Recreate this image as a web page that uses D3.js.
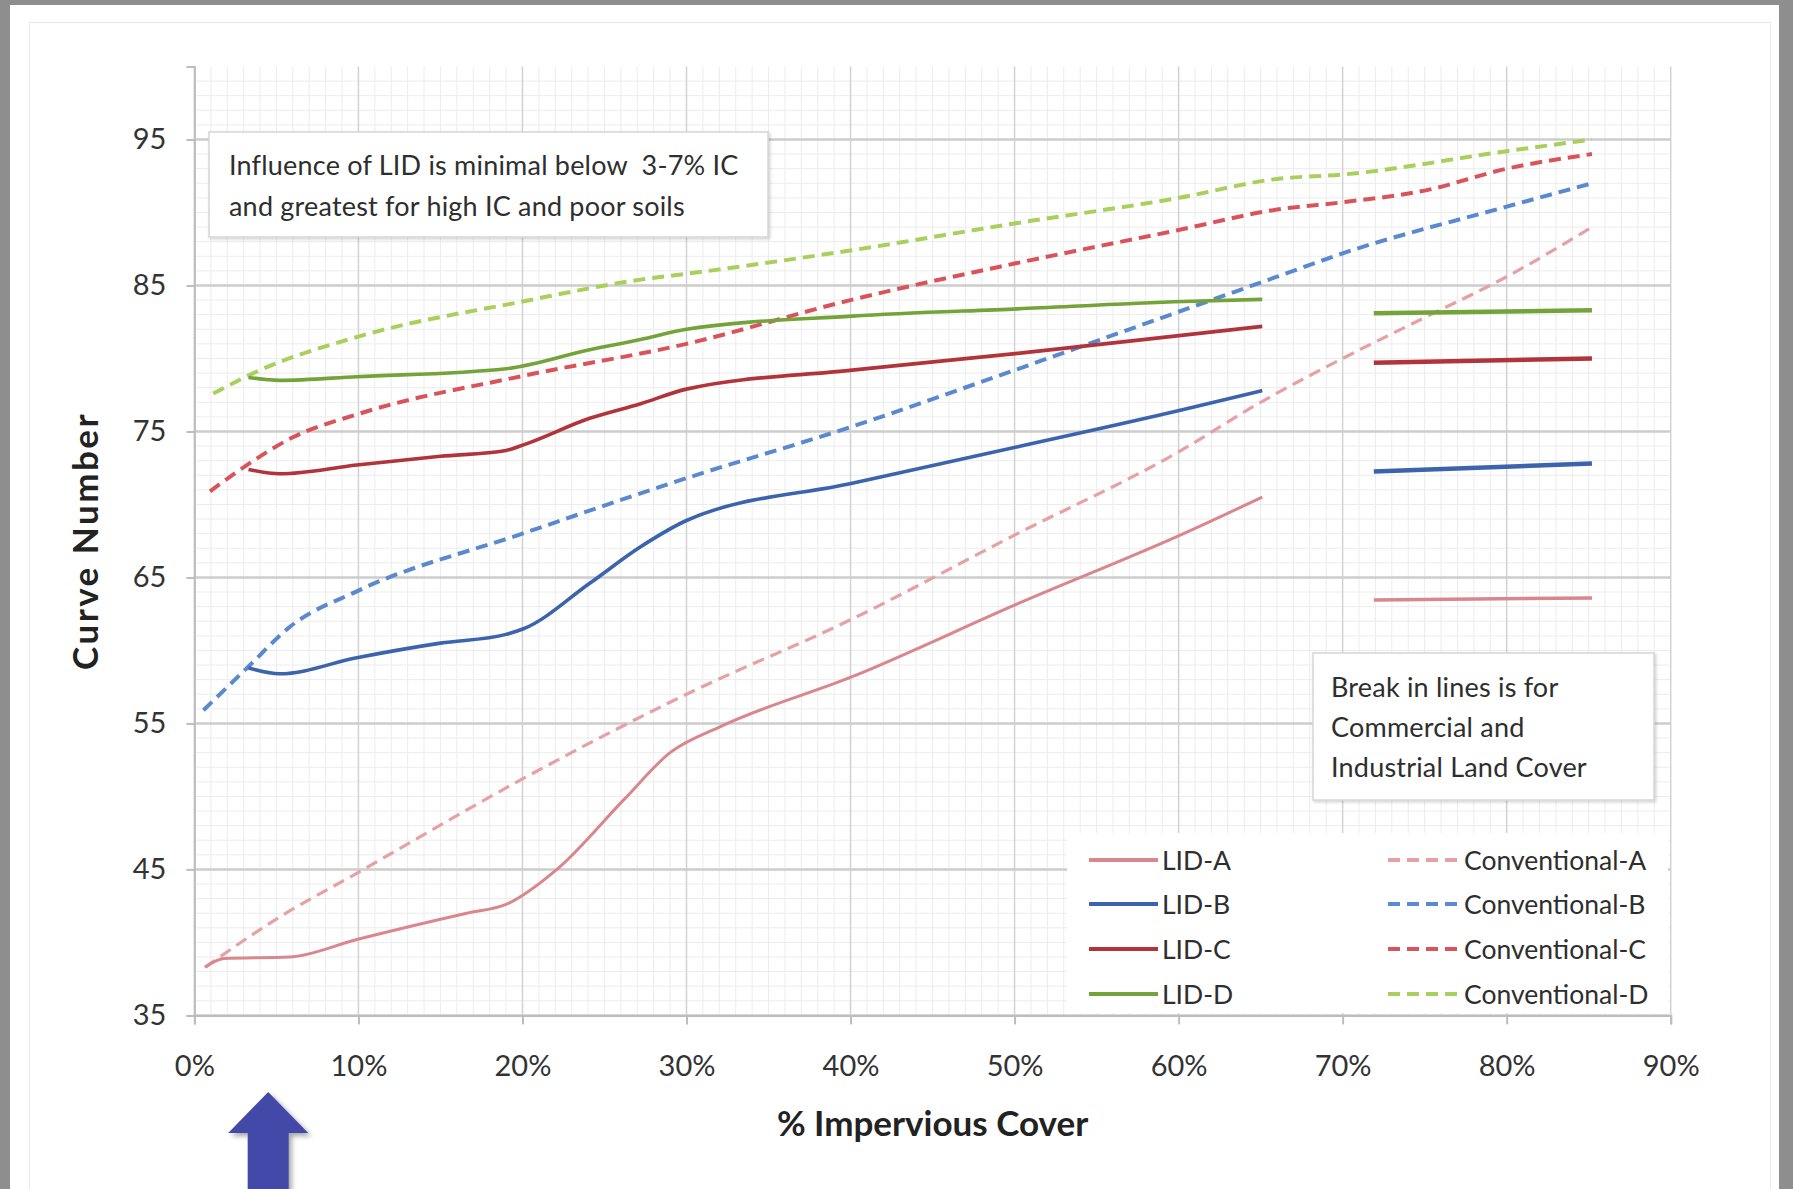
<!DOCTYPE html>
<html><head><meta charset="utf-8">
<script src="https://cdn.jsdelivr.net/npm/d3@7"></script>
<style>
html,body{margin:0;padding:0;background:#8e8e8e;overflow:hidden;}
svg{display:block;}
text{font-family:Lato,"Open Sans",sans-serif;white-space:pre;}
</style></head><body>
<svg id="c" width="1793" height="1189"></svg>
<script>
// ---------- data ----------
const xTicks = [0,10,20,30,40,50,60,70,80,90];
const yTicks = [35,45,55,65,75,85,95];

const convA = [[0.65,38.3],[5,41.6],[10,44.8],[20,51.2],[30,57.0],[40,62.1],[50,67.9],[60,73.6],[65,77.0],[70,80.0],[75,82.8],[80,85.6],[85.2,89.0]];
const convB = [[0.55,55.9],[3.3,58.9],[5.8,61.6],[10,64.1],[20,68.0],[30,71.8],[40,75.3],[50,79.2],[60,83.2],[66,85.6],[70,87.2],[80,90.4],[85.2,92.0]];
const convC = [[0.95,70.9],[3.2,72.7],[6,74.6],[10,76.2],[20,78.8],[30,81.0],[40,84.0],[50,86.5],[60,88.8],[66,90.2],[70,90.7],[75,91.5],[80,93.0],[85.2,94.0]];
const convD = [[1.15,77.6],[3.8,79.1],[10,81.5],[20,83.9],[27.2,85.4],[30,85.8],[40,87.4],[50,89.25],[60,91.0],[66,92.3],[70,92.6],[80,94.2],[85.2,95.0]];

const lidA = [[0.65,38.3],[1.8,38.9],[5.8,39.0],[9.9,40.2],[16.6,42.0],[19,42.6],[22.1,45.0],[26.2,49.8],[29,53.0],[32.1,54.8],[40.1,58.2],[50.2,63.2],[60.3,68.0],[65.1,70.5]];
const lidB = [[3.3,58.8],[5.2,58.4],[9.9,59.5],[15,60.5],[19,61.1],[20.1,61.5],[24.1,64.6],[27.2,67.1],[30,68.9],[40.1,71.45],[50.2,73.95],[60.3,76.5],[65.1,77.8]];
const lidC = [[3.3,72.4],[5.2,72.1],[9.9,72.7],[15,73.3],[19,73.7],[20.1,74.1],[24.1,75.9],[27.2,76.9],[30,77.9],[40.1,79.2],[50.2,80.35],[60.3,81.6],[65.1,82.2]];
const lidD = [[3.3,78.7],[5.2,78.5],[9.9,78.75],[19,79.3],[24.1,80.6],[27.2,81.3],[30,82.0],[40.1,82.9],[50.2,83.4],[60.3,83.9],[65.1,84.05]];

// commercial / industrial land cover segments
const lidA_ci = [[71.9,63.45],[85.2,63.6]];
const lidB_ci = [[71.9,72.25],[85.2,72.8]];
const lidC_ci = [[71.9,79.7],[85.2,80.0]];
const lidD_ci = [[71.9,83.1],[85.2,83.3]];

const lidLabels  = ["LID-A","LID-B","LID-C","LID-D"];
const convLabels = ["Conventional-A","Conventional-B","Conventional-C","Conventional-D"];
const lidColors  = ["#d9868c","#3b64ad","#b2343b","#74a33a"];
const convColors = ["#e6a1a4","#5b89cf","#d9545a","#a9cf5c"];

const note1 = ["Influence of LID is minimal below  3-7% IC","and greatest for high IC and poor soils"];
const note2 = ["Break in lines is for","Commercial and","Industrial Land Cover"];
const xTitle = "% Impervious Cover";
const yTitle = "Curve Number";
const arrowAt = 4.5;

// ---------- drawing ----------
const svg = d3.select("#c");
const L = 194.4, R = 1670.7, T = 66.5, B = 1015.4;
const x = d3.scaleLinear().domain([0,90]).range([L,R]);
const y = d3.scaleLinear().domain([35,100]).range([B,T]);

const defs = svg.append("defs");
const f = defs.append("filter").attr("id","sh").attr("x","-20%").attr("y","-20%").attr("width","150%").attr("height","150%");
f.append("feDropShadow").attr("dx",3).attr("dy",3).attr("stdDeviation",2.5).attr("flood-color","#000").attr("flood-opacity",0.35);
const f2 = defs.append("filter").attr("id","bs").attr("x","-5%").attr("y","-5%").attr("width","110%").attr("height","115%");
f2.append("feDropShadow").attr("dx",1.5).attr("dy",1.5).attr("stdDeviation",1.5).attr("flood-color","#000").attr("flood-opacity",0.18);

svg.append("rect").attr("width",1793).attr("height",1189).attr("fill","#8e8e8e");
svg.append("rect").attr("x",10).attr("y",5).attr("width",1769).attr("height",1184).attr("fill","#ffffff");
svg.append("rect").attr("x",29.5).attr("y",22.5).attr("width",1741).attr("height",1170).attr("fill","none").attr("stroke","#e8e8e8");

const g = svg.append("g");
// minor grid
const minorY = d3.range(36,100).filter(v => (v-35)%10 !== 0);
const minorX = d3.range(1,90).filter(v => v%10 !== 0);
g.selectAll(".my").data(minorY).join("line")
  .attr("x1",L).attr("x2",R).attr("y1",d=>y(d)).attr("y2",d=>y(d))
  .attr("stroke","#ececec").attr("stroke-width",1);
g.selectAll(".mx").data(minorX).join("line")
  .attr("y1",T).attr("y2",B).attr("x1",d=>x(d)).attr("x2",d=>x(d))
  .attr("stroke","#ececec").attr("stroke-width",1);
// major grid
g.selectAll(".vx").data(xTicks).join("line")
  .attr("y1",T).attr("y2",B).attr("x1",d=>x(d)).attr("x2",d=>x(d))
  .attr("stroke","#d2d2d2").attr("stroke-width",1.5);
g.selectAll(".hy").data(yTicks).join("line")
  .attr("x1",L).attr("x2",R).attr("y1",d=>y(d)).attr("y2",d=>y(d))
  .attr("stroke","#cdcdcd").attr("stroke-width",2.5);

// axes
const ax = svg.append("g").attr("transform",`translate(0,${B})`)
  .call(d3.axisBottom(x).tickValues(xTicks).tickSize(9).tickPadding(31).tickFormat(d=>d+"%"));
const ay = svg.append("g").attr("transform",`translate(${L},0)`)
  .call(d3.axisLeft(y).tickValues(yTicks).tickSize(8).tickPadding(20).tickFormat(d3.format("d")));
[ax,ay].forEach(a=>{
  a.select(".domain").attr("stroke","#bdbdbd").attr("stroke-width",2);
  a.selectAll(".tick line").attr("stroke","#bdbdbd").attr("stroke-width",2);
  a.selectAll(".tick text").attr("fill","#333").style("font-size","29px").style("font-family","Lato");
});

// titles
svg.append("text").attr("x",(L+R)/2).attr("y",1136).attr("text-anchor","middle")
  .attr("fill","#222").style("font-size","35px").style("font-weight","bold").text(xTitle);
svg.append("text").attr("transform",`translate(98,${(T+B)/2}) rotate(-90)`).attr("text-anchor","middle")
  .attr("fill","#222").style("font-size","35px").style("font-weight","bold").style("letter-spacing","2.5px").text(yTitle);

// note boxes
function noteBox(x0,y0,w,h,lines,tx,ty0,dy){
  svg.append("rect").attr("x",x0).attr("y",y0).attr("width",w).attr("height",h)
    .attr("fill","#fff").attr("stroke","#d6d6d6").attr("stroke-width",1.5).attr("filter","url(#bs)");
  lines.forEach((s,i)=>svg.append("text").attr("x",tx).attr("y",ty0+i*dy).attr("dy","0.36em")
    .attr("fill","#2e2e2e").style("font-size","27px").style("letter-spacing","0.2px").text(s));
}
noteBox(209,132,559,105,note1,229,165,41);
noteBox(1313,653,341,147,note2,1331,687,40);

// lines
const line = d3.line().x(d=>x(d[0])).y(d=>y(d[1])).curve(d3.curveMonotoneX);
const convs = [convA,convB,convC,convD];
const lids = [lidA,lidB,lidC,lidD];
const cis = [lidA_ci,lidB_ci,lidC_ci,lidD_ci];
const lg = svg.append("g").attr("fill","none").attr("stroke-linecap","butt");
convs.forEach((d,i)=>lg.append("path").attr("d",line(d)).attr("stroke",convColors[i])
  .attr("stroke-width",i===0?3.2:4).attr("stroke-dasharray","12,7"));
lids.forEach((d,i)=>lg.append("path").attr("d",line(d)).attr("stroke",lidColors[i])
  .attr("stroke-width",i===0?3:3.6));
cis.forEach((d,i)=>lg.append("path").attr("d",line(d)).attr("stroke",lidColors[i])
  .attr("stroke-width",i===0?3.5:4.5));

// legend
svg.append("rect").attr("x",1067).attr("y",833).attr("width",601).attr("height",180).attr("fill","#fff");
const rows = [860,904,949,994];
lidLabels.forEach((s,i)=>{
  svg.append("line").attr("x1",1089).attr("x2",1158).attr("y1",rows[i]).attr("y2",rows[i])
    .attr("stroke",lidColors[i]).attr("stroke-width",4);
  svg.append("text").attr("x",1162).attr("y",rows[i]).attr("dy","0.36em").attr("fill","#2e2e2e")
    .style("font-size","26.5px").text(s);
});
convLabels.forEach((s,i)=>{
  svg.append("line").attr("x1",1388).attr("x2",1460).attr("y1",rows[i]).attr("y2",rows[i])
    .attr("stroke",convColors[i]).attr("stroke-width",4).attr("stroke-dasharray","12,7");
  svg.append("text").attr("x",1464).attr("y",rows[i]).attr("dy","0.36em").attr("fill","#2e2e2e")
    .style("font-size","26.5px").text(s);
});

// arrow pointing at low impervious cover
const ax0 = x(arrowAt);
const arrowPts = [[ax0,1092],[ax0+40,1133],[ax0+20.5,1133],[ax0+20.5,1195],[ax0-20.5,1195],[ax0-20.5,1133],[ax0-40,1133]];
svg.append("polygon").attr("points",arrowPts.map(p=>p.join(",")).join(" "))
  .attr("fill","#4348a8").attr("filter","url(#sh)");
</script>
</body></html>
